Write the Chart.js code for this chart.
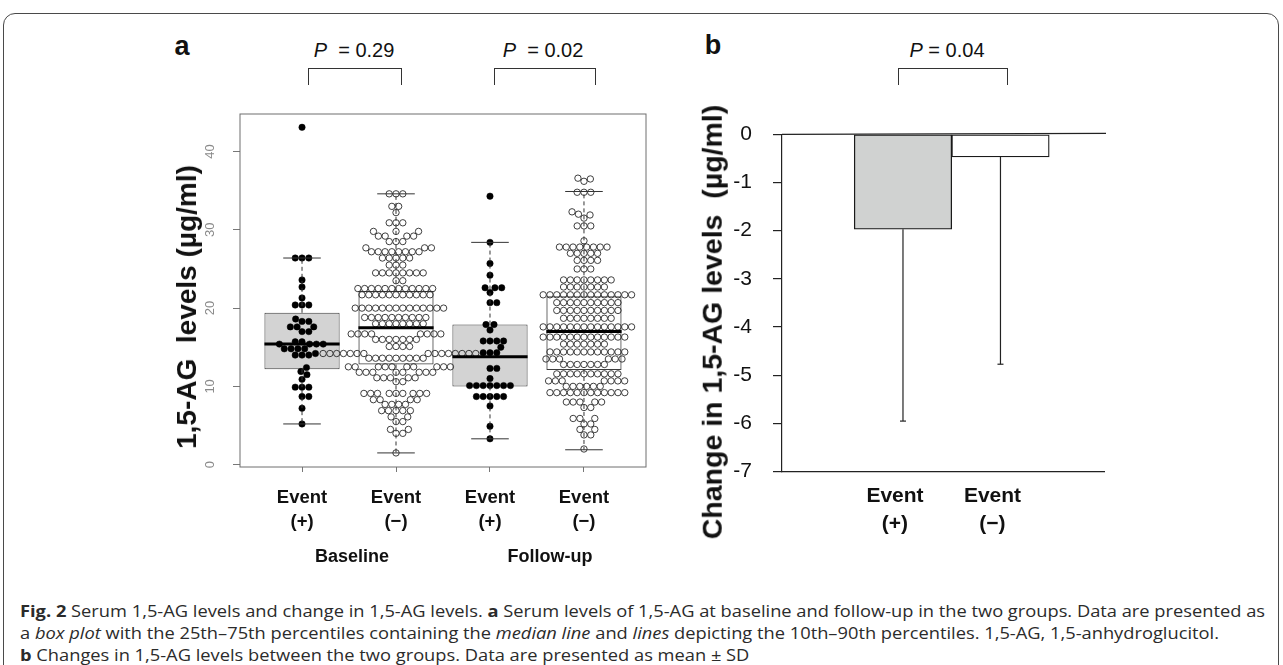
<!DOCTYPE html>
<html>
<head>
<meta charset="utf-8">
<script src="https://cdn.jsdelivr.net/npm/chart.js@4.4.1/dist/chart.umd.min.js"></script>
<style>
body{margin:0;background:#fff;font-family:"Liberation Sans",Arial,sans-serif}
#fig{position:relative;width:1283px;height:665px;overflow:hidden}
.frame{position:absolute;left:3px;top:13px;width:1274px;height:720px;border:1.5px solid #4a4a4a;border-radius:12px}
.t{position:absolute;transform:translate(-50%,-50%);white-space:pre;color:#111;line-height:1}
.rot{transform:translate(-50%,-50%) rotate(-90deg)}
.br{position:absolute;top:68px;height:16px;border:1px solid #333;border-bottom:none}
.box{position:absolute}
#cap{position:absolute;left:20px;top:600px;font-family:"Open Sans",sans-serif;font-size:16px;line-height:22px;color:#2b2b2b;transform-origin:0 0;white-space:nowrap}
</style>
</head>
<body>
<div id="fig">
<div class="frame"></div>

<div class="box" style="left:150px;top:100px;width:520px;height:480px"><canvas id="ca"></canvas></div>
<div class="box" style="left:690px;top:90px;width:440px;height:470px"><canvas id="cb"></canvas></div>

<div class="t" style="left:182px;top:46px;font-size:27px;font-weight:bold">a</div>
<div class="t" style="left:354px;top:50px;font-size:20px"><i>P</i>  = 0.29</div>
<div class="br" style="left:308px;width:92px"></div>
<div class="t" style="left:543px;top:50px;font-size:20px"><i>P</i>  = 0.02</div>
<div class="br" style="left:494px;width:100px"></div>
<div class="t" style="left:713px;top:45px;font-size:27px;font-weight:bold">b</div>
<div class="t" style="left:947px;top:50px;font-size:20px"><i>P</i> = 0.04</div>
<div class="br" style="left:898px;width:108px"></div>

<div class="t rot" style="left:187px;top:307px;font-size:28px;font-weight:bold">1,5-AG  levels (µg/ml)</div>
<div class="t rot" style="left:712px;top:322px;font-size:28.5px;font-weight:bold">Change in 1,5-AG levels  (µg/ml)</div>

<div class="t" id="per0" style="left:352px;top:556px;font-size:18px;font-weight:bold"></div>
<div class="t" id="per1" style="left:550px;top:556px;font-size:18px;font-weight:bold"></div>

<div id="cap">
<div id="cap1"><b>Fig. 2</b>  Serum 1,5-AG levels and change in 1,5-AG levels. <b>a</b> Serum levels of 1,5-AG at baseline and follow-up in the two groups. Data are presented as</div>
<div>a <i>box plot</i> with the 25th–75th percentiles containing the <i>median line</i> and <i>lines</i> depicting the 10th–90th percentiles. 1,5-AG, 1,5-anhydroglucitol.</div>
<div><b>b</b> Changes in 1,5-AG levels between the two groups. Data are presented as mean ± SD</div>
</div>
</div>

<script>
// panel a: groups and box statistics
var groupPos = [1, 2, 3, 4];
var groupNames = ['Event', 'Event', 'Event', 'Event'];
var groupSigns = ['(+)', '(\u2212)', '(+)', '(\u2212)'];
var periods = ['Baseline', 'Follow-up'];
var boxQ1 = [12.2, 12.8, 10.0, 12.1];
var boxMed = [15.4, 17.5, 13.8, 17.0];
var boxQ3 = [19.4, 22.2, 17.9, 21.5];
var whLow = [5.2, 1.5, 3.3, 1.9];
var whHigh = [26.4, 34.6, 28.4, 34.9];
var yTicksA = [0, 10, 20, 30, 40];

// individual values
var baseEvtPos = [43.1, 26.4, 26.4, 26.4, 23.6, 22.7, 21.3, 20.4, 20.4, 20.4, 18.6, 18.3, 18.3,
  17.6, 17.6, 17.6, 17.0, 17.0, 15.7, 15.7, 15.4, 15.4, 15.4, 15.4, 14.8, 14.8, 14.8, 14.8,
  14.2, 14.0, 14.0, 14.0, 12.4, 11.9, 11.5, 10.9, 9.9, 9.9, 9.9, 8.7, 8.7, 7.2, 5.2];

var baseEvtNeg = [1.5, 4.0, 4.0, 4.5, 4.5, 5.5, 5.5, 6.1, 6.1, 6.9, 6.9, 6.9, 6.9, 6.9,
  7.7, 7.7, 7.7, 7.7, 8.3, 8.3, 8.3, 8.3,
  9.1, 9.1, 9.1, 9.1, 9.1, 9.1, 9.1, 9.1, 9.1, 10.6, 10.6,
  11.1, 11.1, 11.1, 11.1, 11.1, 11.8, 11.8, 11.8, 11.8, 11.8, 11.8, 11.8, 11.8,
  12.5, 12.5, 12.5, 12.5, 12.5, 12.5, 12.5, 12.5, 12.5, 12.5,
  13.6, 13.6, 13.6, 13.6, 13.6, 13.6, 13.6, 13.6, 13.6,
  14.2, 14.2, 14.2, 14.2, 14.2, 14.2, 14.2, 14.2, 14.2, 14.2, 14.2, 14.2, 14.2, 14.2, 14.2,
  15.1, 15.1, 15.1, 15.1, 16.0, 16.0, 16.0, 16.0, 16.0, 16.0, 16.0,
  16.7, 16.7, 16.7, 16.7, 16.7, 16.7, 16.7, 16.7,
  18.0, 18.0, 18.0, 18.0, 18.0, 18.0, 18.0, 18.0,
  18.8, 18.8, 18.8, 18.8, 18.8, 18.8, 18.8, 18.8, 18.8, 18.8,
  20.0, 20.0, 20.0, 20.0, 20.0, 20.0, 20.0, 20.0, 20.0, 20.0, 20.0, 20.0, 20.0, 20.0,
  21.7, 21.7, 21.7, 21.7, 21.7, 21.7, 21.7, 21.7, 21.7, 21.7, 21.7,
  22.5, 22.5, 22.5, 22.5, 22.5, 22.5, 22.5, 22.5, 22.5, 22.5, 22.5, 22.5,
  23.5, 23.5, 24.5, 24.5, 24.5, 24.5, 24.5, 24.5, 24.5, 24.5, 25.5, 25.5, 25.5,
  26.4, 26.4, 26.4, 26.4, 26.4, 27.2, 27.2, 27.2, 27.2, 27.2, 27.2, 27.2, 27.2,
  27.7, 27.7, 27.7, 28.5, 28.5, 28.5, 29.2, 29.2, 29.2, 29.2, 29.8, 29.8, 29.8,
  30.9, 30.9, 30.9, 32.2, 33.0, 33.0, 34.6, 34.6, 34.6];

var followEvtPos = [34.3, 28.4, 25.7, 24.2, 22.6, 22.6, 22.6, 22.0, 20.7, 20.7, 17.9, 17.9, 17.2,
  15.8, 15.8, 15.8, 15.8, 15.0, 14.3, 14.3, 14.3, 12.3, 12.3, 11.0,
  10.1, 10.1, 10.1, 10.1, 10.1, 10.1, 10.1, 8.7, 8.7, 8.7, 8.7, 8.7, 7.5, 4.9, 3.3];

var followEvtNeg = [2.0, 3.8, 3.8, 4.5, 4.5, 5.2, 5.2, 5.9, 5.9, 5.9, 7.3, 7.3,
  8.0, 8.0, 8.0, 8.0, 8.0,
  9.2, 9.2, 9.2, 9.2, 9.2, 9.2, 9.2, 9.2, 9.2, 9.2, 9.2, 9.2,
  10.0, 10.0, 10.0, 10.0, 10.0, 10.0, 10.7, 10.7, 10.7, 10.7, 10.7, 10.7, 10.7,
  11.6, 11.6, 11.6, 11.6, 11.6, 11.6, 11.6, 11.6, 11.6, 11.6,
  12.8, 12.8, 12.8, 12.8, 12.8, 12.8, 12.8, 13.5, 13.5, 13.5, 13.5, 13.5, 13.5,
  14.4, 14.4, 14.4, 14.4, 14.4, 14.4, 14.4, 14.4, 14.4, 14.4, 14.4, 14.4,
  15.4, 15.4, 15.4, 15.4, 15.4, 15.4, 15.4,
  16.3, 16.3, 16.3, 16.3, 16.3, 16.3, 16.3, 16.3, 16.3, 16.3, 16.3, 16.3, 16.3,
  17.6, 17.6, 17.6, 17.6, 17.6, 17.6, 17.6, 17.6, 17.6, 17.6, 17.6, 17.6, 17.6, 17.6,
  18.7, 18.7, 18.7, 18.7, 18.7, 18.7, 18.7, 18.7,
  19.7, 19.7, 19.7, 19.7, 19.7, 19.7, 19.7, 19.7, 19.7, 19.7,
  20.7, 20.7, 20.7, 20.7, 20.7, 20.7, 20.7, 20.7, 20.7, 20.7,
  21.7, 21.7, 21.7, 21.7, 21.7, 21.7, 21.7, 21.7, 21.7, 21.7, 21.7, 21.7, 21.7, 21.7,
  22.7, 22.7, 22.7, 22.7, 22.7, 22.7, 22.7, 23.6, 23.6, 23.6, 23.6, 23.6, 23.6, 23.6, 23.6,
  25.0, 25.0, 25.0, 26.1, 26.1, 26.1, 26.1, 27.0, 27.0, 27.0, 27.0, 27.0,
  27.8, 27.8, 27.8, 27.8, 27.8, 27.8, 27.8, 27.8, 28.6,
  30.5, 30.5, 30.5, 31.5, 31.9, 32.0, 32.3, 34.8, 34.8, 34.8, 36.2, 36.5, 36.6];

// panel b: mean change and SD
var changeLabels = ['Event', 'Event'];
var changeSigns = ['(+)', '(\u2212)'];
var changeMean = [-1.97, -0.47];
var changeSD = [3.98, 4.30];

Chart.defaults.font.family = '"Liberation Sans", Arial, sans-serif';
Chart.defaults.color = '#111';
Chart.defaults.animation = false;

document.getElementById('per0').textContent = periods[0];
document.getElementById('per1').textContent = periods[1];

var groupVals = [baseEvtPos, baseEvtNeg, followEvtPos, followEvtNeg];

function line(ctx, x1, y1, x2, y2) {
  ctx.beginPath(); ctx.moveTo(x1, y1); ctx.lineTo(x2, y2); ctx.stroke();
}

var boxParts = {
  id: 'boxParts',
  afterDatasetsDraw: function(chart) {
    var ctx = chart.ctx, a = chart.chartArea, y = chart.scales.y;
    var meta = chart.getDatasetMeta(4);
    ctx.save();
    meta.data.forEach(function(el, i) {
      var half = el.width / 2;
      var hi = y.getPixelForValue(whHigh[i]), lo = y.getPixelForValue(whLow[i]);
      ctx.strokeStyle = '#333'; ctx.lineWidth = 1;
      ctx.setLineDash([4, 3]);
      line(ctx, el.x, y.getPixelForValue(boxQ3[i]), el.x, hi);
      line(ctx, el.x, y.getPixelForValue(boxQ1[i]), el.x, lo);
      ctx.setLineDash([]);
      line(ctx, el.x - half / 2, hi, el.x + half / 2, hi);
      line(ctx, el.x - half / 2, lo, el.x + half / 2, lo);
      ctx.strokeStyle = '#000'; ctx.lineWidth = 3;
      var m = y.getPixelForValue(boxMed[i]);
      line(ctx, el.x - half, m, el.x + half, m);
    });
    ctx.strokeStyle = '#6e6e6e'; ctx.lineWidth = 1;
    ctx.strokeRect(a.left, a.top, a.right - a.left, a.bottom - a.top);
    ctx.restore();
  },
  afterDraw: function(chart) {
    var ctx = chart.ctx, y = chart.scales.y;
    ctx.save();
    ctx.fillStyle = '#8a8a8a';
    ctx.font = '13px "Liberation Sans", Arial, sans-serif';
    ctx.textAlign = 'center'; ctx.textBaseline = 'middle';
    y.ticks.forEach(function(t) {
      ctx.save();
      ctx.translate(chart.chartArea.left - 30, y.getPixelForValue(t.value));
      ctx.rotate(-Math.PI / 2);
      ctx.fillText(String(t.value), 0, 0);
      ctx.restore();
    });
    ctx.restore();
  }
};

var ptStyles = [
  {bg: '#000', bc: '#000', bw: 0.5},
  {bg: 'rgba(0,0,0,0)', bc: '#2a2a2a', bw: 0.9},
  {bg: '#000', bc: '#000', bw: 0.5},
  {bg: 'rgba(0,0,0,0)', bc: '#2a2a2a', bw: 0.9}
];

var dsA = groupVals.map(function(vals, g) {
  return {
    type: 'scatter',
    data: vals.map(function(v) { return {x: groupPos[g], y: v}; }),
    pointRadius: 3.2,
    pointBackgroundColor: ptStyles[g].bg,
    pointBorderColor: ptStyles[g].bc,
    pointBorderWidth: ptStyles[g].bw,
    order: 1
  };
});
dsA.push({
  type: 'bar',
  data: groupPos.map(function(p, i) { return {x: p, y: [boxQ1[i], boxQ3[i]]}; }),
  backgroundColor: ['#d3d3d3', 'rgba(255,255,255,0)', '#d3d3d3', 'rgba(255,255,255,0)'],
  borderColor: '#3c3c3c',
  borderWidth: 1,
  borderSkipped: false,
  barPercentage: 1,
  categoryPercentage: 0.8,
  order: 2
});

var chartA = new Chart(document.getElementById('ca'), {
  type: 'bar',
  data: {datasets: dsA},
  options: {
    responsive: true,
    maintainAspectRatio: false,
    events: [],
    layout: {padding: {top: 14, right: 24, left: 0, bottom: 0}},
    plugins: {legend: {display: false}, tooltip: {enabled: false}},
    scales: {
      x: {
        type: 'linear', min: 0.34, max: 4.66, offset: false,
        afterBuildTicks: function(s) { s.ticks = groupPos.map(function(v) { return {value: v}; }); },
        afterFit: function(s) { s.height = 113; },
        ticks: {
          autoSkip: false, maxRotation: 0, padding: 14, color: '#111',
          font: {size: 18.5, weight: 'bold', lineHeight: 1.3},
          callback: function(v, i) { return [groupNames[i], groupSigns[i]]; }
        },
        grid: {drawOnChartArea: false, tickLength: 5, color: '#777', offset: false},
        border: {display: false}
      },
      y: {
        min: -0.3, max: 44.8,
        afterBuildTicks: function(s) { s.ticks = yTicksA.map(function(v) { return {value: v}; }); },
        afterFit: function(s) { s.width = 90; },
        ticks: {display: false},
        grid: {drawOnChartArea: false, tickLength: 7, color: '#777'},
        border: {display: false}
      }
    }
  },
  plugins: [boxParts]
});

// beeswarm layout in pixel space (ascending priority, closest free slot to centre)
function swarm(vals, yScale, d) {
  var idx = vals.map(function(v, i) { return i; }).sort(function(a, b) { return vals[a] - vals[b]; });
  var placed = [], out = [];
  idx.forEach(function(i) {
    var py = yScale.getPixelForValue(vals[i]);
    var near = placed.filter(function(p) { return Math.abs(p.y - py) < d; });
    var cands = [0];
    near.forEach(function(p) {
      var w = Math.sqrt(d * d - (p.y - py) * (p.y - py));
      cands.push(p.x + w, p.x - w);
    });
    cands.sort(function(a, b) { return Math.abs(a) - Math.abs(b) || b - a; });
    var best = 0;
    for (var k = 0; k < cands.length; k++) {
      var c = cands[k];
      var ok = near.every(function(p) { return (p.x - c) * (p.x - c) + (p.y - py) * (p.y - py) >= d * d - 0.01; });
      if (ok) { best = c; break; }
    }
    placed.push({x: best, y: py});
    out[i] = best;
  });
  return out;
}

var unit = chartA.scales.x.getPixelForValue(1) - chartA.scales.x.getPixelForValue(0);
groupVals.forEach(function(vals, g) {
  var offs = swarm(vals, chartA.scales.y, 6.8);
  chartA.data.datasets[g].data = vals.map(function(v, i) { return {x: groupPos[g] + offs[i] / unit, y: v}; });
});
chartA.update('none');

var errBars = {
  id: 'errBars',
  afterDatasetsDraw: function(chart) {
    var ctx = chart.ctx, a = chart.chartArea, y = chart.scales.y;
    ctx.save();
    ctx.strokeStyle = '#222'; ctx.lineWidth = 1.2;
    chart.getDatasetMeta(0).data.forEach(function(el, i) {
      var y1 = y.getPixelForValue(changeMean[i]);
      var y2 = y.getPixelForValue(changeMean[i] - changeSD[i]);
      line(ctx, el.x, y1, el.x, y2);
      line(ctx, el.x - 3, y2, el.x + 3, y2);
    });
    var z = y.getPixelForValue(0);
    line(ctx, a.left, z, a.right + 2, z - 1);
    ctx.restore();
  }
};

new Chart(document.getElementById('cb'), {
  type: 'bar',
  data: {datasets: [{
    data: changeMean.map(function(v, i) { return {x: i + 1, y: v}; }),
    backgroundColor: ['#d0d2d1', '#ffffff'],
    borderColor: '#1a1a1a',
    borderWidth: 1.3,
    borderSkipped: false,
    barPercentage: 1,
    categoryPercentage: 1
  }]},
  options: {
    responsive: true,
    maintainAspectRatio: false,
    events: [],
    layout: {padding: {top: 44.3, right: 26, left: 0, bottom: 0}},
    plugins: {legend: {display: false}, tooltip: {enabled: false}},
    scales: {
      x: {
        type: 'linear', min: -0.241, max: 3.062, offset: false,
        afterBuildTicks: function(s) { s.ticks = [1, 2].map(function(v) { return {value: v}; }); },
        afterFit: function(s) { s.height = 88.3; },
        ticks: {
          autoSkip: false, maxRotation: 0, padding: 3, labelOffset: -8, color: '#111',
          font: {size: 21, weight: 'bold', lineHeight: 1.33},
          callback: function(v, i) { return [changeLabels[i], changeSigns[i]]; }
        },
        grid: {display: false, offset: false},
        border: {display: true, color: '#222', width: 1.2}
      },
      y: {
        min: -7, max: 0,
        ticks: {stepSize: 1, padding: 21, color: '#111', font: {size: 21}},
        afterFit: function(s) { s.width = 92; },
        grid: {drawOnChartArea: false, tickLength: 9, color: '#222', lineWidth: 1.2},
        border: {display: true, color: '#222', width: 1.2}
      }
    }
  },
  plugins: [errBars]
});

// squeeze caption to the printed line length
var cap = document.getElementById('cap');
var w1 = document.getElementById('cap1');
w1.style.display = 'inline-block';
cap.style.transform = 'scaleX(' + (1245 / w1.getBoundingClientRect().width) + ')';
w1.style.display = 'block';
</script>
</body>
</html>
